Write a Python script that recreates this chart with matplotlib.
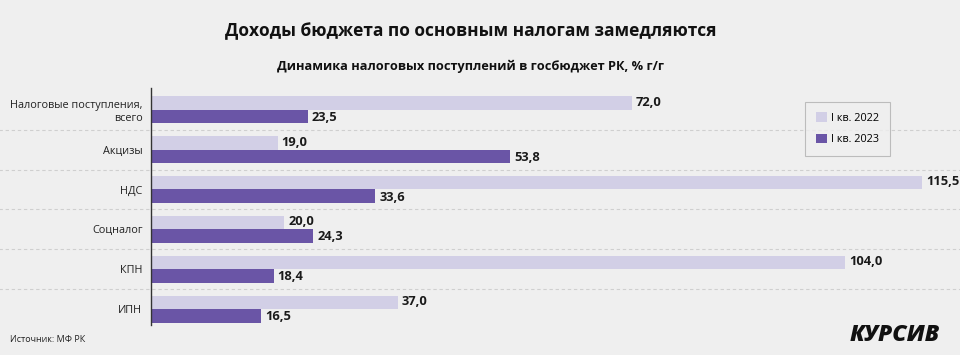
import matplotlib
matplotlib.use("Agg")
import matplotlib.pyplot as plt
import numpy as np

plt.rcParams['font.family'] = ['Open Sans', 'DejaVu Sans']

categories = ['Налоговые поступления,\nвсего', 'Акцизы', 'НДС', 'Соцналог', 'КПН', 'ИПН']
q1_2022 = [72.0, 19.0, 115.5, 20.0, 104.0, 37.0]
q1_2023 = [23.5, 53.8, 33.6, 24.3, 18.4, 16.5]
series_names = ['I кв. 2022', 'I кв. 2023']

bg = '#efefef'
light = '#d2cfe6'
dark = '#6a55a6'

fig = plt.figure(figsize=(9.6, 3.55), dpi=100, facecolor=bg)
ax = fig.add_axes([0.157, 0.0845, 0.835, 0.668])
ax.set_facecolor(bg)

y = np.arange(len(categories))
h = 0.34
ax.barh(y - h / 2, q1_2022, height=h, color=light, label=series_names[0])
ax.barh(y + h / 2, q1_2023, height=h, color=dark, label=series_names[1])

for yi, v in zip(y, q1_2022):
    ax.text(v + 0.6, yi - h / 2 - 0.02, f'{v:.1f}'.replace('.', ','), va='center', ha='left',
            fontsize=9.3, fontweight='bold', color='#1a1a1a')
for yi, v in zip(y, q1_2023):
    ax.text(v + 0.6, yi + h / 2 + 0.02, f'{v:.1f}'.replace('.', ','), va='center', ha='left',
            fontsize=9.3, fontweight='bold', color='#1a1a1a')

for b in np.arange(0.5, len(categories) - 1, 1.0):
    ax.axhline(b, xmin=-0.19, xmax=1.01, color='#cfcfcf', lw=0.8, ls=(0, (3, 2.5)), clip_on=False)

ax.set_xlim(0, 120)
ax.set_ylim(len(categories) - 0.5 - 0.1, -0.55)
ax.set_yticks(y)
ax.set_yticklabels(categories, fontsize=7.8, color='#222222')
ax.tick_params(axis='y', length=0, pad=6)
ax.set_xticks([])
for s in ['top', 'right', 'bottom']:
    ax.spines[s].set_visible(False)
ax.spines['left'].set_color('#333333')
ax.spines['left'].set_linewidth(1.0)

leg = ax.legend(loc='upper left', bbox_to_anchor=(0.81, 0.965), frameon=True, fontsize=7.8,
                handlelength=1.0, handleheight=1.0, borderpad=1.0, labelspacing=0.9,
                handletextpad=0.35, fancybox=False)
leg.get_frame().set_edgecolor('#b0b0b0')
leg.get_frame().set_facecolor(bg)
leg.get_frame().set_linewidth(0.8)

fig.text(0.49, 0.912, 'Доходы бюджета по основным налогам замедляются', ha='center', va='center',
         fontsize=12.5, fontweight='bold', color='#111111')
fig.text(0.49, 0.813, 'Динамика налоговых поступлений в госбюджет РК, % г/г', ha='center', va='center',
         fontsize=9.2, fontweight='bold', color='#111111')
fig.text(0.010, 0.045, 'Источник: МФ РК', ha='left', va='center', fontsize=6.5, color='#222222')
fig.text(0.979, 0.055, 'КУРСИВ', ha='right', va='center', fontsize=16.5, fontweight='heavy',
         style='italic', color='#111111')

fig.savefig('out.png', dpi=100, facecolor=bg)
